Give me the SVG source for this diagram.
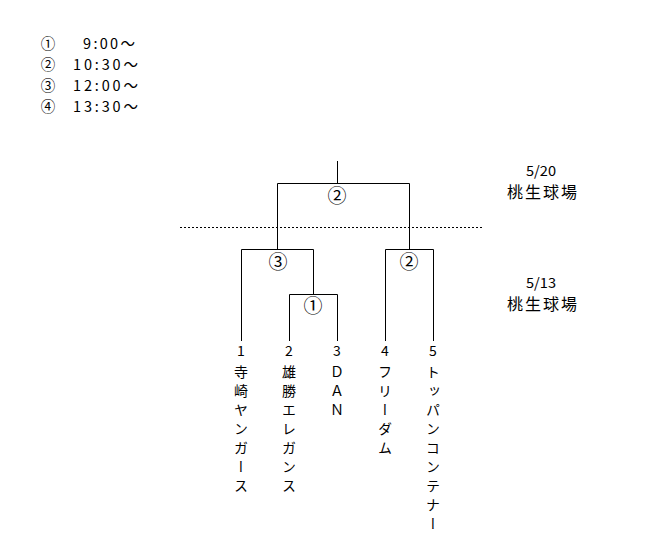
<svg xmlns="http://www.w3.org/2000/svg" width="653" height="556" viewBox="0 0 653 556">
<style>
text{font-family:"Noto Sans CJK JP","DejaVu Sans",sans-serif;fill:#000;dominant-baseline:central}
.t{font-size:14.5px}
.lc{font-size:14.5px;text-anchor:middle}
.c{font-size:19px;text-anchor:middle}
.n{font-size:14px;text-anchor:middle}
.d{font-size:14px;text-anchor:middle}
.p{font-size:16px;text-anchor:middle}
.v{font-size:14px;writing-mode:vertical-rl;text-orientation:upright;letter-spacing:5px}
.ln{stroke:#000;stroke-width:1;fill:none}
.dot{stroke:#000;stroke-width:1;stroke-dasharray:2 2;fill:none}
</style>
<rect width="653" height="556" fill="#fff"/>
<g id="legend">
<text class="lc" x="48" y="42">①</text><text class="t" x="83" y="42" textLength="52" lengthAdjust="spacing">9:00～</text>
<text class="lc" x="48" y="63">②</text><text class="t" x="73" y="63" textLength="65" lengthAdjust="spacing">10:30～</text>
<text class="lc" x="48" y="84">③</text><text class="t" x="73" y="84" textLength="65" lengthAdjust="spacing">12:00～</text>
<text class="lc" x="48" y="105">④</text><text class="t" x="73" y="105" textLength="65" lengthAdjust="spacing">13:30～</text>
</g>
<g id="connectors">
<path class="ln" d="M337.5 161V183.5M277.5 249V183.5H409.5V249"/>
<path class="dot" d="M180 227.5H483"/>
<path class="ln" d="M241.5 341V249.5H313.5V294"/>
<path class="ln" d="M289.5 341V294.5H337.5V341"/>
<path class="ln" d="M385.5 341V249.5H433.5V341"/>
</g>
<g id="final"><text class="c" x="337" y="194">②</text></g>
<g id="semi1"><text class="c" x="278" y="260">③</text></g>
<g id="semi2"><text class="c" x="409" y="260">②</text></g>
<g id="first"><text class="c" x="313" y="304">①</text></g>
<g id="dates">
<text class="d" x="541" y="169.5" textLength="30" lengthAdjust="spacingAndGlyphs">5/20</text>
<text class="p" x="542" y="191" textLength="70" lengthAdjust="spacing">桃生球場</text>
<text class="d" x="541" y="281.5" textLength="30" lengthAdjust="spacingAndGlyphs">5/13</text>
<text class="p" x="542" y="303" textLength="70" lengthAdjust="spacing">桃生球場</text>
</g>
<g id="team1"><text class="n" x="241" y="350">1</text><text class="v" x="241" y="365">寺崎ヤンガース</text></g>
<g id="team2"><text class="n" x="289" y="350">2</text><text class="v" x="289" y="365">雄勝エレガンス</text></g>
<g id="team3"><text class="n" x="337" y="350">3</text><text class="v" x="337" y="365">ＤＡＮ</text></g>
<g id="team4"><text class="n" x="385" y="350">4</text><text class="v" x="385" y="365">フリーダム</text></g>
<g id="team5"><text class="n" x="433" y="350">5</text><text class="v" x="433" y="365">トッパンコンテナー</text></g>
</svg>
